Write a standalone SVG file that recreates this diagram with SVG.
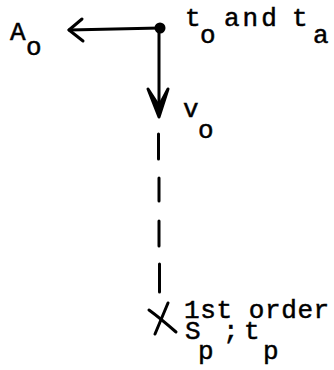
<svg xmlns="http://www.w3.org/2000/svg" width="334" height="370" viewBox="0 0 334 370">
<style>
text{font-family:"Liberation Mono","Courier New",monospace;font-size:26px;fill:#000;stroke:#000;stroke-width:0.5}
.ln{stroke:#000;stroke-width:3;fill:none;stroke-linecap:round;stroke-linejoin:round}
</style>
<rect width="334" height="370" fill="#fff"/>
<g id="connectors">
<path class="ln" d="M160 28 L69 30"/>
<path class="ln" d="M82 19 L69 30 L83 41" stroke-width="4"/>
<path class="ln" d="M159 28 L159 110"/>
<path d="M148 89 L159 117 L168 89 L159 106 Z" fill="#000" stroke="#000" stroke-width="3" stroke-linejoin="round"/>
<path class="ln" d="M158.5 134 L158.5 159 M159 178 L159 201 M159 221 L159 246 M159.5 264 L159.5 292"/>
</g>
<g id="origin">
<circle cx="160" cy="28" r="5.5" fill="#000"/>
<text x="185" y="26">t</text><text x="200" y="43">o</text>
<text x="224" y="26" letter-spacing="3">and</text>
<text x="292" y="26">t</text><text x="313" y="43">a</text>
</g>
<g id="A0">
<text x="10" y="40">A</text><text x="26" y="55">o</text>
</g>
<g id="v0">
<text x="183" y="117">v</text><text x="198" y="138">o</text>
</g>
<g id="first-order">
<path class="ln" d="M149 310 Q160 318 176 332" stroke-width="4"/>
<path class="ln" d="M168 303 L155 334" stroke-width="3.5"/>
<text x="184" y="318" letter-spacing="0.6">1st order</text>
<text x="185" y="339">S</text><text x="198" y="359">p</text>
<text x="223" y="339">;</text>
<text x="244" y="339">t</text><text x="263" y="359">p</text>
</g>
</svg>
